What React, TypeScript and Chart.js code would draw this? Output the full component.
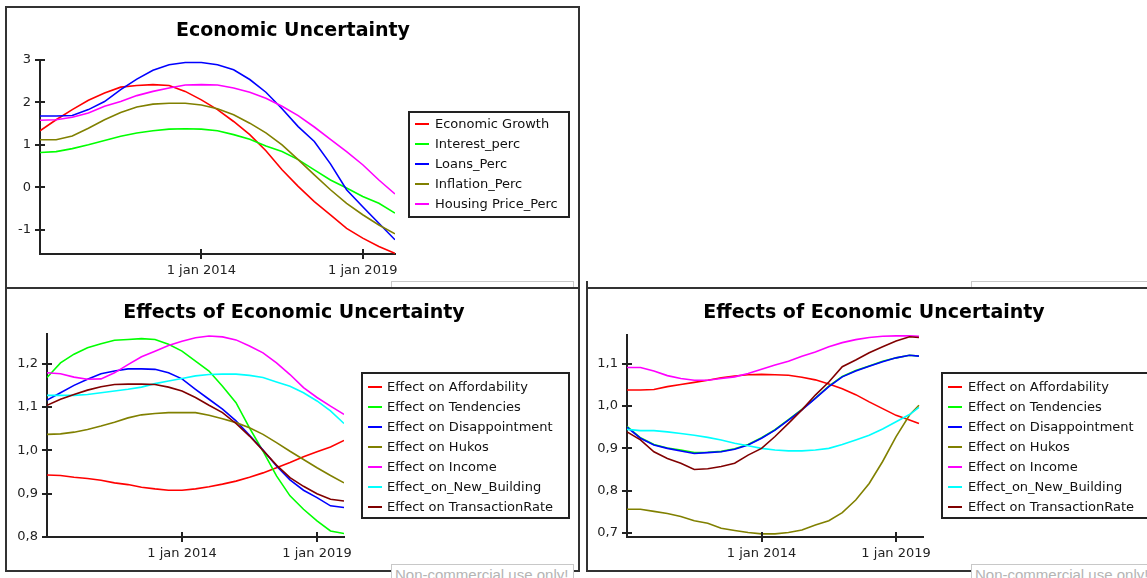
import React, { useEffect, useRef } from "react";
import { Chart, registerables } from "chart.js";

Chart.register(...registerables);

const FONT = "'DejaVu Sans', Verdana, sans-serif";

// ---------- shared time axis (decimal years) ----------
const years = [2009, 2009.5, 2010, 2010.5, 2011, 2011.5, 2012, 2012.5, 2013, 2013.5, 2014, 2014.5, 2015, 2015.5, 2016, 2016.5, 2017, 2017.5, 2018, 2018.5, 2019, 2019.5, 2020];
const years3 = [2009, 2009.5, 2010, 2010.5, 2011, 2011.5, 2012, 2012.5, 2013, 2013.5, 2014, 2014.5, 2015, 2015.5, 2016, 2016.5, 2017, 2017.5, 2018, 2018.5, 2019, 2019.5, 2019.85];
const timeTicks = [2014, 2019];
const timeTickLabels = ["1 jan 2014", "1 jan 2019"];

// ---------- panel 1: Economic Uncertainty ----------
const econTicks = [-1, 0, 1, 2, 3];
const economicGrowth = [1.33, 1.59, 1.83, 2.05, 2.22, 2.36, 2.40, 2.42, 2.40, 2.26, 2.06, 1.83, 1.55, 1.24, 0.86, 0.41, 0.02, -0.34, -0.65, -0.97, -1.20, -1.40, -1.56];
const interestPerc = [0.82, 0.84, 0.91, 1.00, 1.10, 1.20, 1.28, 1.33, 1.37, 1.38, 1.37, 1.33, 1.24, 1.13, 0.97, 0.84, 0.65, 0.41, 0.17, -0.02, -0.22, -0.38, -0.61];
const loansPerc = [1.68, 1.68, 1.69, 1.83, 2.02, 2.30, 2.55, 2.76, 2.89, 2.94, 2.94, 2.89, 2.77, 2.54, 2.24, 1.85, 1.43, 1.08, 0.55, -0.06, -0.46, -0.85, -1.24];
const inflationPerc = [1.12, 1.12, 1.21, 1.39, 1.59, 1.76, 1.89, 1.96, 1.98, 1.98, 1.94, 1.85, 1.71, 1.51, 1.28, 1.00, 0.65, 0.29, -0.06, -0.38, -0.65, -0.89, -1.10];
const housingPricePerc = [1.58, 1.59, 1.65, 1.75, 1.91, 2.02, 2.16, 2.26, 2.34, 2.41, 2.42, 2.41, 2.34, 2.24, 2.10, 1.91, 1.69, 1.42, 1.13, 0.84, 0.53, 0.17, -0.16];

// ---------- panel 2: Effects of Economic Uncertainty ----------
const effectTicks2 = [0.8, 0.9, 1.0, 1.1, 1.2];
const affordability2 = [0.943, 0.942, 0.938, 0.935, 0.931, 0.925, 0.921, 0.915, 0.911, 0.908, 0.908, 0.911, 0.916, 0.922, 0.929, 0.938, 0.948, 0.960, 0.972, 0.985, 0.997, 1.008, 1.023];
const tendencies2 = [1.168, 1.202, 1.222, 1.237, 1.246, 1.254, 1.256, 1.258, 1.256, 1.245, 1.229, 1.206, 1.183, 1.148, 1.110, 1.052, 0.998, 0.941, 0.895, 0.864, 0.837, 0.814, 0.808];
const disappointment2 = [1.116, 1.133, 1.150, 1.164, 1.177, 1.183, 1.188, 1.188, 1.187, 1.179, 1.165, 1.141, 1.118, 1.095, 1.068, 1.035, 1.001, 0.964, 0.932, 0.908, 0.891, 0.872, 0.868];
const hukos2 = [1.037, 1.038, 1.042, 1.048, 1.056, 1.065, 1.075, 1.082, 1.085, 1.087, 1.087, 1.087, 1.081, 1.073, 1.064, 1.052, 1.037, 1.018, 0.998, 0.979, 0.960, 0.942, 0.925];
const income2 = [1.179, 1.177, 1.169, 1.164, 1.165, 1.179, 1.198, 1.216, 1.229, 1.242, 1.252, 1.260, 1.264, 1.262, 1.255, 1.241, 1.225, 1.202, 1.175, 1.145, 1.122, 1.102, 1.083];
const newBuilding2 = [1.127, 1.127, 1.127, 1.129, 1.133, 1.137, 1.141, 1.146, 1.154, 1.160, 1.166, 1.172, 1.175, 1.176, 1.176, 1.173, 1.168, 1.158, 1.148, 1.133, 1.114, 1.091, 1.062];
const transaction2 = [1.104, 1.118, 1.129, 1.139, 1.147, 1.152, 1.153, 1.153, 1.152, 1.146, 1.137, 1.122, 1.104, 1.087, 1.062, 1.033, 1.000, 0.966, 0.937, 0.917, 0.900, 0.887, 0.883];

// ---------- panel 3: Effects of Economic Uncertainty (second run) ----------
const effectTicks3 = [0.7, 0.8, 0.9, 1.0, 1.1];
const affordability3 = [1.038, 1.038, 1.039, 1.046, 1.051, 1.056, 1.061, 1.067, 1.071, 1.074, 1.075, 1.074, 1.073, 1.068, 1.062, 1.052, 1.041, 1.027, 1.010, 0.994, 0.978, 0.967, 0.959];
const tendencies3 = [0.952, 0.925, 0.909, 0.901, 0.896, 0.890, 0.891, 0.893, 0.899, 0.909, 0.925, 0.944, 0.968, 0.992, 1.019, 1.047, 1.070, 1.084, 1.095, 1.106, 1.114, 1.120, 1.118];
const disappointment3 = [0.950, 0.924, 0.908, 0.900, 0.894, 0.888, 0.890, 0.892, 0.898, 0.908, 0.924, 0.943, 0.967, 0.991, 1.018, 1.046, 1.069, 1.083, 1.094, 1.105, 1.114, 1.120, 1.118];
const hukos3 = [0.756, 0.756, 0.751, 0.746, 0.739, 0.729, 0.723, 0.711, 0.706, 0.701, 0.698, 0.698, 0.701, 0.707, 0.719, 0.729, 0.748, 0.778, 0.817, 0.869, 0.928, 0.979, 1.002];
const income3 = [1.091, 1.091, 1.083, 1.072, 1.065, 1.061, 1.061, 1.065, 1.069, 1.077, 1.087, 1.097, 1.106, 1.118, 1.128, 1.140, 1.150, 1.157, 1.162, 1.165, 1.166, 1.166, 1.165];
const newBuilding3 = [0.945, 0.942, 0.942, 0.939, 0.935, 0.931, 0.926, 0.920, 0.912, 0.906, 0.900, 0.896, 0.894, 0.894, 0.896, 0.900, 0.909, 0.920, 0.931, 0.946, 0.963, 0.980, 0.997];
const transaction3 = [0.939, 0.920, 0.892, 0.876, 0.865, 0.850, 0.852, 0.857, 0.865, 0.884, 0.900, 0.928, 0.959, 0.991, 1.026, 1.057, 1.093, 1.109, 1.126, 1.140, 1.154, 1.164, 1.162];

const effectLabels = [
  "Effect on Affordability",
  "Effect on Tendencies",
  "Effect on Disappointment",
  "Effect on Hukos",
  "Effect on Income",
  "Effect_on_New_Building",
  "Effect on TransactionRate",
];
const econLabels = ["Economic Growth", "Interest_perc", "Loans_Perc", "Inflation_Perc", "Housing Price_Perc"];
const effectColors = ["#ff0000", "#00ff00", "#0000ff", "#808000", "#ff00ff", "#00ffff", "#800000"];
const econColors = ["#ff0000", "#00ff00", "#0000ff", "#808000", "#ff00ff"];

type Series = { label: string; color: string; xs: number[]; ys: number[] };
type Spec = {
  canvas: { left: number; top: number; width: number; height: number };
  area: { left: number; top: number; right: number; bottom: number };
  title: string;
  titleX: number;
  titleBaseline: number;
  legend: { left: number; top: number; width: number; height: number; swatchX: number; textX: number; firstY: number; step: number };
  xMin: number;
  xMax: number;
  yMin: number;
  yMax: number;
  yTicks: number[];
  yFormat: (v: number) => string;
  series: Series[];
};

const comma1 = (v: number) => v.toFixed(1).replace(".", ",");
const intFmt = (v: number) => String(Math.round(v));

const spec1: Spec = {
  canvas: { left: 7, top: 8, width: 572, height: 279 },
  area: { left: 40, top: 60, right: 395, bottom: 254 },
  title: "Economic Uncertainty",
  titleX: 293,
  titleBaseline: 36,
  legend: { left: 409, top: 112, width: 160, height: 105, swatchX: 415, textX: 435, firstY: 124, step: 20 },
  xMin: 2009,
  xMax: 2020,
  yMin: -1.575,
  yMax: 3,
  yTicks: econTicks,
  yFormat: intFmt,
  series: [economicGrowth, interestPerc, loansPerc, inflationPerc, housingPricePerc].map((ys, i) => ({
    label: econLabels[i], color: econColors[i], xs: years, ys,
  })),
};

const spec2: Spec = {
  canvas: { left: 7, top: 289, width: 572, height: 281 },
  area: { left: 47, top: 334, right: 344, bottom: 537 },
  title: "Effects of Economic Uncertainty",
  titleX: 294,
  titleBaseline: 318,
  legend: { left: 362, top: 373, width: 207, height: 145, swatchX: 368, textX: 387, firstY: 387, step: 20 },
  xMin: 2009,
  xMax: 2020,
  yMin: 0.8,
  yMax: 1.2686,
  yTicks: effectTicks2,
  yFormat: comma1,
  series: [affordability2, tendencies2, disappointment2, hukos2, income2, newBuilding2, transaction2].map((ys, i) => ({
    label: effectLabels[i], color: effectColors[i], xs: years, ys,
  })),
};

const spec3: Spec = {
  canvas: { left: 588, top: 289, width: 559, height: 281 },
  area: { left: 627, top: 335, right: 923, bottom: 537 },
  title: "Effects of Economic Uncertainty",
  titleX: 874,
  titleBaseline: 318,
  legend: { left: 942, top: 373, width: 207, height: 145, swatchX: 948, textX: 968, firstY: 387, step: 20 },
  xMin: 2009,
  xMax: 2020,
  yMin: 0.6905,
  yMax: 1.168,
  yTicks: effectTicks3,
  yFormat: comma1,
  series: [affordability3, tendencies3, disappointment3, hukos3, income3, newBuilding3, transaction3].map((ys, i) => ({
    label: effectLabels[i], color: effectColors[i], xs: years3, ys,
  })),
};

function PanelChart({ spec }: { spec: Spec }) {
  const ref = useRef<HTMLCanvasElement | null>(null);
  useEffect(() => {
    if (!ref.current) return;
    const c = spec.canvas;
    const yAxisW = spec.area.left - c.left;
    const xAxisH = c.top + c.height - spec.area.bottom;
    const n = spec.series.length;

    const decor = {
      id: "decor",
      afterDraw(chart: any) {
        const ctx = chart.ctx as CanvasRenderingContext2D;
        const ox = c.left;
        const oy = c.top;
        const a = chart.chartArea;
        const xs = chart.scales.x;
        const ys = chart.scales.y;
        ctx.save();
        // crossing tick marks
        ctx.strokeStyle = "#222";
        ctx.lineWidth = 2;
        ctx.beginPath();
        ys.ticks.forEach((t: any) => {
          const p = Math.round(ys.getPixelForValue(t.value));
          ctx.moveTo(a.left - 5, p);
          ctx.lineTo(a.left + 5, p);
        });
        xs.ticks.forEach((t: any) => {
          const p = Math.round(xs.getPixelForValue(t.value));
          ctx.moveTo(p, a.bottom - 5);
          ctx.lineTo(p, a.bottom + 5);
        });
        ctx.stroke();
        // title
        ctx.fillStyle = "#000";
        ctx.font = `bold 19px ${FONT}`;
        ctx.textAlign = "center";
        ctx.textBaseline = "alphabetic";
        ctx.fillText(spec.title, spec.titleX - ox, spec.titleBaseline - oy);
        // legend
        const L = spec.legend;
        ctx.lineWidth = 2;
        ctx.strokeStyle = "#222";
        ctx.strokeRect(L.left - ox, L.top - oy, L.width, L.height);
        ctx.font = `13px ${FONT}`;
        ctx.textAlign = "left";
        ctx.textBaseline = "middle";
        chart.data.datasets.forEach((ds: any, i: number) => {
          const y = Math.round(L.firstY + i * L.step - oy);
          ctx.strokeStyle = ds.borderColor;
          ctx.lineWidth = 2;
          ctx.beginPath();
          ctx.moveTo(L.swatchX - ox, y);
          ctx.lineTo(L.swatchX - ox + 14, y);
          ctx.stroke();
          ctx.fillStyle = "#111";
          ctx.fillText(ds.label, L.textX - ox, y + 1);
        });
        ctx.restore();
      },
    };

    const chart = new Chart(ref.current, {
      type: "line",
      data: {
        datasets: spec.series.map((s, i) => ({
          label: s.label,
          data: s.xs.map((x, j) => ({ x, y: s.ys[j] })),
          borderColor: s.color,
          backgroundColor: s.color,
          borderWidth: 1.6,
          pointRadius: 0,
          tension: 0,
          fill: false,
          order: n - i,
        })),
      },
      options: {
        responsive: false,
        animation: false,
        events: [],
        layout: {
          padding: {
            left: 0,
            top: spec.area.top - c.top,
            right: c.left + c.width - spec.area.right,
            bottom: 0,
          },
        },
        plugins: {
          legend: { display: false },
          title: { display: false },
          tooltip: { enabled: false },
        },
        scales: {
          x: {
            type: "linear",
            min: spec.xMin,
            max: spec.xMax,
            afterBuildTicks: (scale: any) => {
              scale.ticks = timeTicks.map((v) => ({ value: v }));
            },
            afterFit: (scale: any) => {
              scale.height = xAxisH;
            },
            grid: { display: false, drawTicks: false, tickLength: 0 },
            border: { display: true, color: "#222", width: 2 },
            ticks: {
              autoSkip: false,
              maxRotation: 0,
              padding: 9,
              color: "#222",
              font: { family: FONT, size: 13 },
              callback: (_v: any, idx: number) => timeTickLabels[idx],
            },
          },
          y: {
            type: "linear",
            min: spec.yMin,
            max: spec.yMax,
            afterBuildTicks: (scale: any) => {
              scale.ticks = spec.yTicks.map((v) => ({ value: v }));
            },
            afterFit: (scale: any) => {
              scale.width = yAxisW;
            },
            grid: { display: false, drawTicks: false, tickLength: 0 },
            border: { display: true, color: "#222", width: 2 },
            ticks: {
              autoSkip: false,
              padding: 9,
              color: "#222",
              font: { family: FONT, size: 13 },
              callback: (v: any) => spec.yFormat(Number(v)),
            },
          },
        },
      },
      plugins: [decor],
    } as any);
    return () => chart.destroy();
  }, [spec]);

  const c = spec.canvas;
  return (
    <canvas
      ref={ref}
      width={c.width}
      height={c.height}
      style={{ position: "absolute", left: c.left, top: c.top, width: c.width, height: c.height }}
    />
  );
}

const frame = (left: number, top: number, width: number, height: number): React.CSSProperties => ({
  position: "absolute",
  left,
  top,
  width,
  height,
  boxSizing: "border-box",
  border: "2px solid #333",
  background: "#fff",
});

const wmBox = (left: number, top: number, width: number, height: number): React.CSSProperties => ({
  position: "absolute",
  left,
  top,
  width,
  height,
  boxSizing: "border-box",
  border: "1px solid #c8c8c8",
  background: "#fff",
  overflow: "hidden",
  whiteSpace: "nowrap",
  fontFamily: "'Liberation Sans', Arial, sans-serif",
  fontSize: 15,
  color: "#b4b4b4",
  paddingLeft: 3,
  paddingTop: 1,
  lineHeight: "17px",
});

export default function App() {
  return (
    <div style={{ position: "absolute", left: 0, top: 0, width: 1147, height: 578, overflow: "hidden", background: "#fff" }}>
      <div style={wmBox(971, 281, 200, 8)} />
      <div style={frame(5, 6, 575, 283)} />
      <PanelChart spec={spec1} />
      <div style={wmBox(391, 281, 183, 8)} />
      <div style={frame(5, 287, 575, 285)} />
      <PanelChart spec={spec2} />
      <div style={wmBox(391, 564, 183, 30)}>Non-commercial use only!</div>
      <div style={{ position: "absolute", left: 586, top: 281, width: 2, height: 8, background: "#333" }} />
      <div style={frame(586, 287, 620, 285)} />
      <PanelChart spec={spec3} />
      <div style={wmBox(971, 564, 200, 30)}>Non-commercial use only!</div>
    </div>
  );
}
